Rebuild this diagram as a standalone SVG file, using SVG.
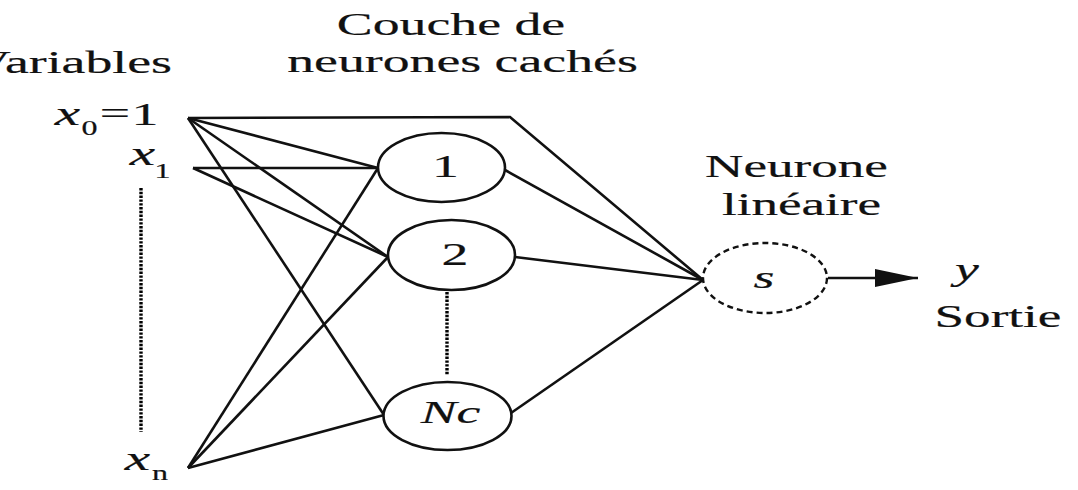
<svg xmlns="http://www.w3.org/2000/svg" width="1078" height="490" viewBox="0 0 1078 490">
<style>
.t{font-family:"Liberation Serif","Times New Roman",serif;font-size:32px;fill:#111;stroke:#111;stroke-width:0.2;text-anchor:middle}
.i{font-style:italic}
.e{stroke:#111;stroke-width:2.6;fill:none;stroke-linejoin:miter}
.n{stroke:#111;stroke-width:2.6;fill:#fff}
.dot{stroke:#000;stroke-width:3.4;stroke-dasharray:2.4 1.4;fill:none}
</style>
<defs>
<marker id="ah" markerUnits="userSpaceOnUse" markerWidth="44" markerHeight="20" refX="43" refY="9" orient="auto">
<path d="M0,0 L43,9 L0,18 Z" fill="#111"/>
</marker>
</defs>
<rect width="1078" height="490" fill="#fff"/>
<g id="connectors">
<polyline class="e" points="188,118 510,117 703,280"/>
<line class="e" x1="188" y1="118" x2="378" y2="168"/>
<line class="e" x1="188" y1="118" x2="388" y2="257"/>
<line class="e" x1="188" y1="118" x2="384" y2="415"/>
<line class="e" x1="193" y1="168" x2="378" y2="168"/>
<line class="e" x1="193" y1="168" x2="388" y2="257"/>
<line class="e" x1="188" y1="468" x2="378" y2="168"/>
<line class="e" x1="188" y1="468" x2="388" y2="257"/>
<line class="e" x1="188" y1="468" x2="384" y2="415"/>
<line class="e" x1="505" y1="170" x2="703" y2="280"/>
<line class="e" x1="515" y1="257" x2="703" y2="280"/>
<line class="e" x1="511" y1="413" x2="703" y2="280"/>
<line class="e" x1="828" y1="278" x2="918" y2="278" marker-end="url(#ah)"/>
<line class="dot" x1="141" y1="188" x2="141" y2="432"/>
<line class="dot" x1="447" y1="292" x2="447" y2="375"/>
</g>
<g id="labels">
<text class="t" style="text-anchor:end" transform="translate(172,73) scale(1.68,1)">Variables</text>
<text class="t" transform="translate(451,35) scale(1.68,1)">Couche de</text>
<text class="t" transform="translate(462.5,72) scale(1.68,1)">neurones cachés</text>
<text class="t" transform="translate(796.5,177) scale(1.66,1)">Neurone</text>
<text class="t" transform="translate(801.5,215) scale(1.66,1)">linéaire</text>
<text class="t" transform="translate(998,327) scale(1.66,1)">Sortie</text>
</g>
<g id="x0">
<text class="t i" style="font-size:34px" transform="translate(67.5,125) scale(1.68,1)">x</text>
<text class="t" style="font-size:20px" transform="translate(89.5,135) scale(1.6,1)">0</text>
<text class="t" transform="translate(115,124) scale(1.68,1)">=</text>
<text class="t" transform="translate(145,125) scale(1.68,1)">1</text>
</g>
<g id="x1">
<text class="t i" style="font-size:34px" transform="translate(142.5,165) scale(1.68,1)">x</text>
<text class="t" style="font-size:20px" transform="translate(162.5,178) scale(1.6,1)">1</text>
</g>
<g id="xn">
<text class="t i" style="font-size:34px" transform="translate(137.5,470) scale(1.68,1)">x</text>
<text class="t" style="font-size:20px" transform="translate(160,480) scale(1.6,1)">n</text>
</g>
<g id="n1">
<ellipse class="n" cx="441.5" cy="167.5" rx="63.5" ry="34.5"/>
<text class="t" transform="translate(445.5,177) scale(1.68,1)">1</text>
</g>
<g id="n2">
<ellipse class="n" cx="451.5" cy="255" rx="63.5" ry="35"/>
<text class="t" transform="translate(455,265) scale(1.68,1)">2</text>
</g>
<g id="nc">
<ellipse class="n" cx="447.5" cy="416" rx="64" ry="34"/>
<text class="t i" transform="translate(450.5,423) scale(1.68,1)">Nc</text>
</g>
<g id="s">
<ellipse cx="765" cy="278" rx="62" ry="35" fill="#fff" stroke="#111" stroke-width="2.4" stroke-dasharray="6 4"/>
<text class="t i" transform="translate(764,288) scale(1.68,1)">s</text>
</g>
<g id="y">
<text class="t i" transform="translate(967,280) scale(1.68,1)">y</text>
</g>
</svg>
